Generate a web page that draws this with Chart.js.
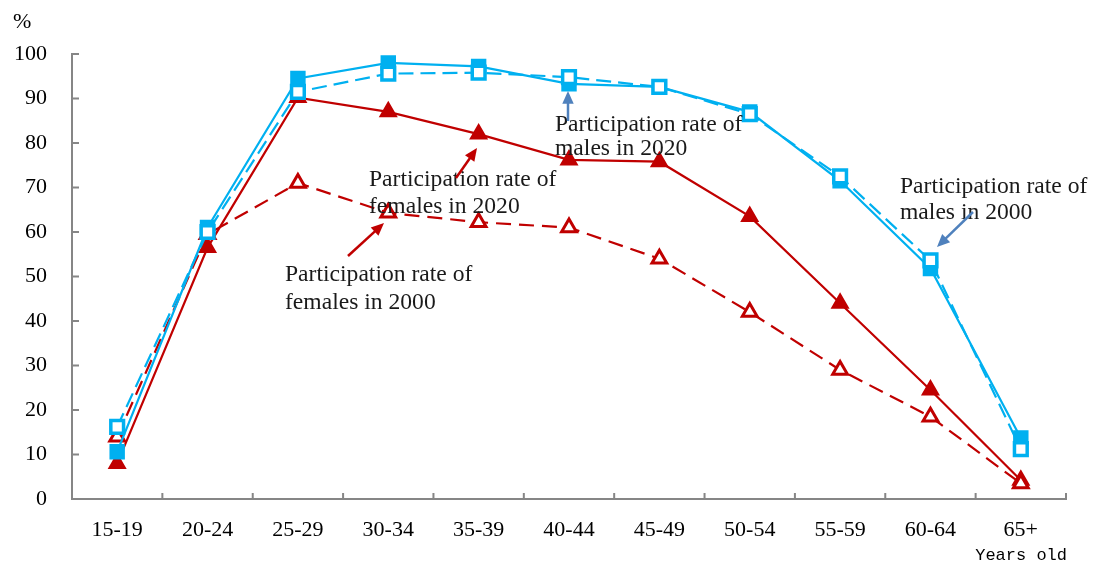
<!DOCTYPE html>
<html>
<head>
<meta charset="utf-8">
<script src="https://cdn.jsdelivr.net/npm/chart.js@4/dist/chart.umd.min.js"></script>
<style>
  html, body { margin: 0; padding: 0; background: #fff; }
  #wrap { width: 1093px; height: 565px; position: relative; }
</style>
</head>
<body>
<div id="wrap"><canvas id="laborChart"></canvas></div>
<script>
// age groups and participation rates (%)
const ageGroups = ['15-19', '20-24', '25-29', '30-34', '35-39', '40-44', '45-49', '50-54', '55-59', '60-64', '65+'];
const males2020 = [10.6, 61.0, 94.5, 98.0, 97.2, 93.3, 92.6, 87.0, 71.5, 51.8, 13.7];
const males2000 = [16.2, 60.0, 91.5, 95.6, 95.8, 94.8, 92.6, 86.5, 72.5, 53.6, 11.2];
const females2020 = [8.0, 56.5, 90.2, 87.0, 82.0, 76.2, 75.8, 63.5, 44.0, 24.5, 4.2];
const females2000 = [14.0, 59.5, 71.0, 64.3, 62.2, 61.0, 54.0, 42.0, 29.0, 18.5, 3.5];
const yTicks = [0, 10, 20, 30, 40, 50, 60, 70, 80, 90, 100];

const BLUE = '#00b0f0';
const RED = '#c00000';
const AXIS = '#868686';
const serif = '"Liberation Serif", "Times New Roman", serif';

// callout labels with arrows (pixel positions on the canvas)
const notes = [
    { lines: ['Participation rate of', 'males in 2020'], x: 555, y: 125, gap: 24, color: '#4f81bd', from: [568, 121], to: [568, 91] },
    { lines: ['Participation rate of', 'males in 2000'], x: 900, y: 187, gap: 26, color: '#4f81bd', from: [973, 212], to: [937, 247] },
    { lines: ['Participation rate of', 'females in 2020'], x: 369, y: 180, gap: 27, color: RED, from: [456, 178], to: [477, 148] },
    { lines: ['Participation rate of', 'females in 2000'], x: 285, y: 275, gap: 28, color: RED, from: [348, 256], to: [384, 223] }
];

function arrow(ctx, from, to, color) {
    const ang = Math.atan2(to[1] - from[1], to[0] - from[0]);
    const head = 14;
    ctx.save();
    ctx.strokeStyle = color;
    ctx.fillStyle = color;
    ctx.lineWidth = 2.5;
    ctx.beginPath();
    ctx.moveTo(from[0], from[1]);
    ctx.lineTo(to[0] - Math.cos(ang) * head * 0.8, to[1] - Math.sin(ang) * head * 0.8);
    ctx.stroke();
    ctx.beginPath();
    ctx.moveTo(to[0], to[1]);
    ctx.lineTo(to[0] - head * Math.cos(ang - 0.42), to[1] - head * Math.sin(ang - 0.42));
    ctx.lineTo(to[0] - head * Math.cos(ang + 0.42), to[1] - head * Math.sin(ang + 0.42));
    ctx.closePath();
    ctx.fill();
    ctx.restore();
}

const extras = {
    id: 'extras',
    afterDraw(chart) {
        const ctx = chart.ctx;
        const area = chart.chartArea;
        const x = chart.scales.x;
        const y = chart.scales.y;

        // tick marks pointing inward
        ctx.save();
        ctx.strokeStyle = AXIS;
        ctx.lineWidth = 2;
        ctx.beginPath();
        yTicks.forEach(function(v) {
            const py = y.getPixelForValue(v);
            ctx.moveTo(area.left, py);
            ctx.lineTo(area.left + 7, py);
        });
        const step = x.getPixelForValue(1) - x.getPixelForValue(0);
        for (let i = 1; i <= ageGroups.length; i++) {
            const px = x.getPixelForValue(i) - step / 2;
            ctx.moveTo(px, area.bottom);
            ctx.lineTo(px, area.bottom - 6);
        }
        ctx.stroke();
        ctx.restore();

        // axis titles
        ctx.save();
        ctx.fillStyle = '#000';
        ctx.font = '22px ' + serif;
        ctx.textBaseline = 'middle';
        ctx.fillText('%', 13, 22);
        ctx.font = '17px "Liberation Mono", monospace';
        ctx.textAlign = 'right';
        ctx.fillText('Years old', area.right + 1, 555);
        ctx.restore();

        // callouts
        notes.forEach(function(n) {
            ctx.save();
            ctx.fillStyle = '#1a1a1a';
            ctx.font = '23.6px ' + serif;
            ctx.textBaseline = 'middle';
            n.lines.forEach(function(t, i) {
                ctx.fillText(t, n.x, n.y + i * n.gap);
            });
            ctx.restore();
            arrow(ctx, n.from, n.to, n.color);
        });
    }
};

new Chart(document.getElementById('laborChart'), {
    type: 'line',
    data: {
        labels: ageGroups,
        datasets: [
            {
                label: 'Males 2000',
                data: males2000,
                borderColor: BLUE,
                borderWidth: 2.2,
                borderDash: [15, 7],
                pointStyle: 'rect',
                pointRadius: 9,
                pointBorderWidth: 3.5,
                pointBackgroundColor: '#fff',
                pointBorderColor: BLUE,
                order: 0
            },
            {
                label: 'Males 2020',
                data: males2020,
                borderColor: BLUE,
                borderWidth: 2.2,
                pointStyle: 'rect',
                pointRadius: 9.5,
                pointBorderWidth: 2,
                pointBackgroundColor: BLUE,
                pointBorderColor: BLUE,
                order: 1
            },
            {
                label: 'Females 2000',
                data: females2000,
                borderColor: RED,
                borderWidth: 2.2,
                borderDash: [15, 8],
                pointStyle: 'triangle',
                pointRadius: 8.5,
                pointBorderWidth: 3,
                pointBackgroundColor: '#fff',
                pointBorderColor: RED,
                order: 2
            },
            {
                label: 'Females 2020',
                data: females2020,
                borderColor: RED,
                borderWidth: 2.2,
                pointStyle: 'triangle',
                pointRadius: 9,
                pointBorderWidth: 2,
                pointBackgroundColor: RED,
                pointBorderColor: RED,
                order: 3
            }
        ]
    },
    options: {
        responsive: true,
        maintainAspectRatio: false,
        animation: false,
        layout: { padding: { left: 0, top: 54, right: 27, bottom: 0 } },
        plugins: {
            legend: { display: false },
            tooltip: { enabled: false }
        },
        scales: {
            x: {
                offset: true,
                grid: { display: false },
                border: { display: true, color: AXIS, width: 2 },
                ticks: {
                    color: '#000',
                    font: { family: serif, size: 22 },
                    padding: 10,
                    maxRotation: 0,
                    autoSkip: false
                },
                afterFit: function(scale) { scale.height = 66; }
            },
            y: {
                min: 0,
                max: 100,
                grid: { display: false },
                border: { display: true, color: AXIS, width: 2 },
                afterBuildTicks: function(scale) {
                    scale.ticks = yTicks.map(function(v) { return { value: v }; });
                },
                ticks: {
                    color: '#000',
                    font: { family: serif, size: 22 },
                    padding: 17
                },
                afterFit: function(scale) { scale.width = 72; }
            }
        }
    },
    plugins: [extras]
});
</script>
</body>
</html>
